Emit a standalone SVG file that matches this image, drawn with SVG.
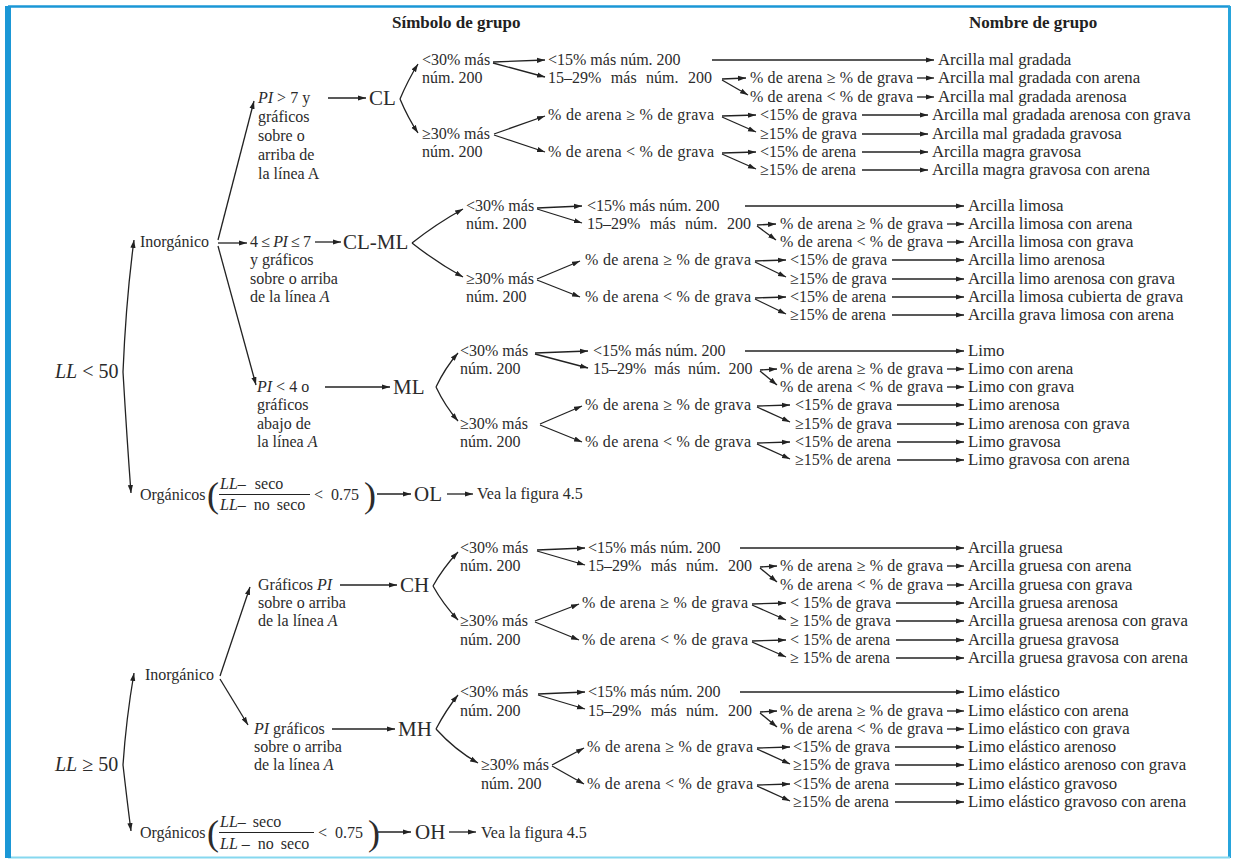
<svg xmlns="http://www.w3.org/2000/svg" width="1234" height="862" viewBox="0 0 1234 862">
<style>
.t{font-family:"Liberation Serif","Times New Roman",serif;font-size:16px;fill:#2b2b2b}
.n{font-size:16.8px}
.h{font-weight:bold;fill:#222;font-size:17px}
.big{font-size:21px}
.ll{font-size:20px}
.par{font-size:36px}
.i{font-style:italic}
.w{word-spacing:5.5px}
.c path{stroke:#222;stroke-width:1.3;fill:none;marker-end:url(#ah)}
</style>
<defs>
<marker id="ah" markerUnits="userSpaceOnUse" markerWidth="9" markerHeight="6" refX="8" refY="3" orient="auto"><path d="M0,0.4 L8,3 L0,5.6 z" fill="#222"/></marker>
</defs>
<rect width="1234" height="862" fill="#fff"/>
<g id="frame">
<path d="M8,6.5 H1230" stroke="#1b97d6" stroke-width="2.5"/>
<path d="M1229.5,6 V858" stroke="#27a4dc" stroke-width="3"/>
<path d="M8,857.5 H1230" stroke="#86d8ef" stroke-width="2"/>
<rect x="5" y="6" width="6" height="852" fill="#1b97d6"/>
</g>
<g id="headers">
<text class="t h" x="392" y="28">Símbolo de grupo</text>
<text class="t h" x="969" y="28">Nombre de grupo</text>
</g>
<g id="ll50">
<text class="t ll" x="55" y="378"><tspan class="i">LL</tspan> &lt; 50</text>
</g>
<g id="inorg1"><text class="t" x="140" y="247">Inorgánico</text></g>
<g id="pi7"><text class="t" x="258" y="103"><tspan class="i">PI</tspan> &gt; 7 y</text>
<text class="t" x="258" y="122">gráficos</text><text class="t" x="258" y="141">sobre o</text><text class="t" x="258" y="160">arriba de</text><text class="t" x="258" y="179">la línea A</text></g>
<g id="cl"><text class="t big" x="369" y="105">CL</text></g>
<g id="pi47"><text class="t" x="250" y="247" textLength="61">4 ≤ <tspan class="i">PI</tspan> ≤ 7</text>
<text class="t" x="250" y="265">y gráficos</text><text class="t" x="250" y="284">sobre o arriba</text><text class="t" x="250" y="302">de la línea <tspan class="i">A</tspan></text></g>
<g id="clml"><text class="t big" x="343" y="249">CL-ML</text></g>
<g id="pi4"><text class="t" x="257" y="392"><tspan class="i">PI</tspan> &lt; 4 o</text>
<text class="t" x="257" y="410">gráficos</text><text class="t" x="257" y="429">abajo de</text><text class="t" x="257" y="447">la línea <tspan class="i">A</tspan></text></g>
<g id="ml"><text class="t big" x="393" y="394">ML</text></g>
<g id="org1"><text class="t" x="140" y="500">Orgánicos</text>
<text class="t par" x="207" y="507">(</text>
<text class="t" x="220" y="489"><tspan class="i">LL</tspan>– <tspan dx="5">seco</tspan></text>
<path d="M219,494.5 H310" stroke="#222" stroke-width="1.1"/>
<text class="t" x="220" y="510"><tspan class="i">LL</tspan>– <tspan dx="4">no</tspan> <tspan dx="3">seco</tspan></text>
<text class="t" x="314" y="500">&lt; <tspan dx="4">0.75</tspan></text>
<text class="t par" x="364" y="507">)</text></g>
<g id="ol"><text class="t big" x="414" y="501">OL</text></g>
<g id="vea1"><text class="t" x="477" y="499">Vea la figura 4.5</text></g>

<g id="cl-a"><text class="t" x="422" y="65">&lt;30% más</text><text class="t" x="422" y="83">núm. 200</text></g>
<g id="cl-b"><text class="t" x="422" y="139">≥30% más</text><text class="t" x="422" y="157">núm. 200</text></g>
<g id="cl-a1"><text class="t" x="548" y="65">&lt;15% más núm. 200</text></g>
<g id="cl-a2"><text class="t w" x="548" y="83">15–29% más núm. 200</text></g>
<g id="cl-a2x"><text class="t" x="750" y="83" textLength="163">% de arena ≥ % de grava</text><text class="t" x="750" y="102" textLength="163">% de arena &lt; % de grava</text></g>
<g id="cl-b1"><text class="t" x="548" y="120" textLength="166">% de arena ≥ % de grava</text></g>
<g id="cl-b2"><text class="t" x="548" y="157" textLength="166">% de arena &lt; % de grava</text></g>
<g id="cl-bx"><text class="t" x="760" y="120">&lt;15% de grava</text><text class="t" x="760" y="139">≥15% de grava</text><text class="t" x="760" y="157">&lt;15% de arena</text><text class="t" x="760" y="175">≥15% de arena</text></g>
<g id="cl-names">
<text class="t n" x="938" y="65">Arcilla mal gradada</text>
<text class="t n" x="938" y="83">Arcilla mal gradada con arena</text>
<text class="t n" x="938" y="102">Arcilla mal gradada arenosa</text>
<text class="t n" x="932" y="120">Arcilla mal gradada arenosa con grava</text>
<text class="t n" x="932" y="139">Arcilla mal gradada gravosa</text>
<text class="t n" x="932" y="157">Arcilla magra gravosa</text>
<text class="t n" x="932" y="175">Arcilla magra gravosa con arena</text>
</g>

<g id="clml-a"><text class="t" x="466" y="211">&lt;30% más</text><text class="t" x="466" y="229">núm. 200</text></g>
<g id="clml-b"><text class="t" x="466" y="284">≥30% más</text><text class="t" x="466" y="302">núm. 200</text></g>
<g id="clml-a1"><text class="t" x="587" y="211">&lt;15% más núm. 200</text></g>
<g id="clml-a2"><text class="t w" x="587" y="229">15–29% más núm. 200</text></g>
<g id="clml-a2x"><text class="t" x="780" y="229" textLength="163">% de arena ≥ % de grava</text><text class="t" x="780" y="247" textLength="163">% de arena &lt; % de grava</text></g>
<g id="clml-b1"><text class="t" x="585" y="265" textLength="166">% de arena ≥ % de grava</text></g>
<g id="clml-b2"><text class="t" x="585" y="302" textLength="166">% de arena &lt; % de grava</text></g>
<g id="clml-bx"><text class="t" x="790" y="265">&lt;15% de grava</text><text class="t" x="790" y="284">≥15% de grava</text><text class="t" x="790" y="302">&lt;15% de arena</text><text class="t" x="790" y="320">≥15% de arena</text></g>
<g id="clml-names">
<text class="t n" x="968" y="211">Arcilla limosa</text>
<text class="t n" x="968" y="229">Arcilla limosa con arena</text>
<text class="t n" x="968" y="247">Arcilla limosa con grava</text>
<text class="t n" x="968" y="265">Arcilla limo arenosa</text>
<text class="t n" x="968" y="284">Arcilla limo arenosa con grava</text>
<text class="t n" x="968" y="302">Arcilla limosa cubierta de grava</text>
<text class="t n" x="968" y="320">Arcilla grava limosa con arena</text>
</g>

<g id="ml-a"><text class="t" x="460" y="356">&lt;30% más</text><text class="t" x="460" y="374">núm. 200</text></g>
<g id="ml-b"><text class="t" x="460" y="429">≥30% más</text><text class="t" x="460" y="447">núm. 200</text></g>
<g id="ml-a1"><text class="t" x="593" y="356">&lt;15% más núm. 200</text></g>
<g id="ml-a2"><text class="t" x="593" y="374" style="word-spacing:4px">15–29% más núm. 200</text></g>
<g id="ml-a2x"><text class="t" x="780" y="374" textLength="163">% de arena ≥ % de grava</text><text class="t" x="780" y="392" textLength="163">% de arena &lt; % de grava</text></g>
<g id="ml-b1"><text class="t" x="585" y="410" textLength="166">% de arena ≥ % de grava</text></g>
<g id="ml-b2"><text class="t" x="585" y="447" textLength="166">% de arena &lt; % de grava</text></g>
<g id="ml-bx"><text class="t" x="795" y="410">&lt;15% de grava</text><text class="t" x="795" y="429">≥15% de grava</text><text class="t" x="795" y="447">&lt;15% de arena</text><text class="t" x="795" y="465">≥15% de arena</text></g>
<g id="ml-names">
<text class="t n" x="968" y="356">Limo</text>
<text class="t n" x="968" y="374">Limo con arena</text>
<text class="t n" x="968" y="392">Limo con grava</text>
<text class="t n" x="968" y="410">Limo arenosa</text>
<text class="t n" x="968" y="429">Limo arenosa con grava</text>
<text class="t n" x="968" y="447">Limo gravosa</text>
<text class="t n" x="968" y="465">Limo gravosa con arena</text>
</g>

<g id="ll50b"><text class="t ll" x="55" y="771"><tspan class="i">LL</tspan> ≥ 50</text></g>
<g id="inorg2"><text class="t" x="145" y="680">Inorgánico</text></g>
<g id="gpi"><text class="t" x="258" y="590">Gráficos <tspan class="i">PI</tspan></text><text class="t" x="258" y="608">sobre o arriba</text><text class="t" x="258" y="626">de la línea <tspan class="i">A</tspan></text></g>
<g id="ch"><text class="t big" x="400" y="592">CH</text></g>
<g id="pig"><text class="t" x="254" y="734"><tspan class="i">PI</tspan> gráficos</text><text class="t" x="254" y="752">sobre o arriba</text><text class="t" x="254" y="770">de la línea <tspan class="i">A</tspan></text></g>
<g id="mh"><text class="t big" x="398" y="736">MH</text></g>
<g id="org2"><text class="t" x="140" y="838">Orgánicos</text>
<text class="t par" x="207" y="845">(</text>
<text class="t" x="220" y="827"><tspan class="i">LL</tspan>– <tspan dx="3">seco</tspan></text>
<path d="M219,832.5 H314" stroke="#222" stroke-width="1.1"/>
<text class="t" x="220" y="849"><tspan class="i">LL</tspan> – <tspan dx="4">no</tspan> <tspan dx="3">seco</tspan></text>
<text class="t" x="318" y="838">&lt; <tspan dx="4">0.75</tspan></text>
<text class="t par" x="368" y="845">)</text></g>
<g id="oh"><text class="t big" x="415" y="839">OH</text></g>
<g id="vea2"><text class="t" x="481" y="838">Vea la figura 4.5</text></g>

<g id="ch-a"><text class="t" x="460" y="553">&lt;30% más</text><text class="t" x="460" y="571">núm. 200</text></g>
<g id="ch-b"><text class="t" x="460" y="626">≥30% más</text><text class="t" x="460" y="645">núm. 200</text></g>
<g id="ch-a1"><text class="t" x="588" y="553">&lt;15% más núm. 200</text></g>
<g id="ch-a2"><text class="t w" x="588" y="571">15–29% más núm. 200</text></g>
<g id="ch-a2x"><text class="t" x="780" y="571" textLength="163">% de arena ≥ % de grava</text><text class="t" x="780" y="590" textLength="163">% de arena &lt; % de grava</text></g>
<g id="ch-b1"><text class="t" x="582" y="608" textLength="166">% de arena ≥  % de grava</text></g>
<g id="ch-b2"><text class="t" x="582" y="645" textLength="166">% de arena &lt;  % de grava</text></g>
<g id="ch-bx"><text class="t" x="790" y="608">&lt; 15% de grava</text><text class="t" x="790" y="626">≥ 15% de grava</text><text class="t" x="790" y="645">&lt; 15% de arena</text><text class="t" x="790" y="663">≥ 15% de arena</text></g>
<g id="ch-names">
<text class="t n" x="968" y="553">Arcilla gruesa</text>
<text class="t n" x="968" y="571">Arcilla gruesa con arena</text>
<text class="t n" x="968" y="590">Arcilla gruesa con grava</text>
<text class="t n" x="968" y="608">Arcilla gruesa arenosa</text>
<text class="t n" x="968" y="626">Arcilla gruesa arenosa con grava</text>
<text class="t n" x="968" y="645">Arcilla gruesa gravosa</text>
<text class="t n" x="968" y="663">Arcilla gruesa gravosa con arena</text>
</g>

<g id="mh-a"><text class="t" x="460" y="697">&lt;30% más</text><text class="t" x="460" y="716">núm. 200</text></g>
<g id="mh-b"><text class="t" x="481" y="770">≥30% más</text><text class="t" x="481" y="789">núm. 200</text></g>
<g id="mh-a1"><text class="t" x="588" y="697">&lt;15% más núm. 200</text></g>
<g id="mh-a2"><text class="t w" x="588" y="716">15–29% más núm. 200</text></g>
<g id="mh-a2x"><text class="t" x="780" y="716" textLength="163">% de arena ≥ % de grava</text><text class="t" x="780" y="734" textLength="163">% de arena &lt; % de grava</text></g>
<g id="mh-b1"><text class="t" x="587" y="752" textLength="166">% de arena ≥ % de grava</text></g>
<g id="mh-b2"><text class="t" x="587" y="789" textLength="166">% de arena &lt; % de grava</text></g>
<g id="mh-bx"><text class="t" x="793" y="752">&lt;15% de grava</text><text class="t" x="793" y="770">≥15% de grava</text><text class="t" x="793" y="789">&lt;15% de arena</text><text class="t" x="793" y="807">≥15% de arena</text></g>
<g id="mh-names">
<text class="t n" x="968" y="697">Limo elástico</text>
<text class="t n" x="968" y="716">Limo elástico con arena</text>
<text class="t n" x="968" y="734">Limo elástico con grava</text>
<text class="t n" x="968" y="752">Limo elástico arenoso</text>
<text class="t n" x="968" y="770">Limo elástico arenoso con grava</text>
<text class="t n" x="968" y="789">Limo elástico gravoso</text>
<text class="t n" x="968" y="807">Limo elástico gravoso con arena</text>
</g>

<g id="connectors" class="c">
<path d="M123,372 Q126,300 134,240"/>
<path d="M123,372 Q127,440 131,493"/>
<path d="M218,240 L254,101"/>
<path d="M218,243 L247,243"/>
<path d="M218,246 L256,385"/>
<path d="M328,98 L366,98"/>
<path d="M400,99 Q408,80 418,64"/>
<path d="M400,99 Q408,118 418,133"/>
<path d="M315,242 L341,242"/>
<path d="M412,243 Q436,224 463,209"/>
<path d="M412,243 Q436,262 463,277"/>
<path d="M325,387 L390,387"/>
<path d="M436,387 Q445,368 458,353"/>
<path d="M436,387 Q445,406 458,421"/>
<path d="M377,494 L411,494"/>
<path d="M447,494 L473,494"/>

<path d="M493,62 L545,60"/><path d="M493,63 L545,77"/>
<path d="M712,60 L934,60"/>
<path d="M722,79 L746,78"/><path d="M722,80 L748,95"/>
<path d="M917,78 L934,78"/><path d="M917,97 L934,97"/>
<path d="M494,134 L545,116"/><path d="M494,135 L545,152"/>
<path d="M722,116 L756,115"/><path d="M722,117 L756,132"/>
<path d="M722,153 L756,152"/><path d="M722,154 L756,169"/>
<path d="M862,115 L928,115"/><path d="M862,134 L928,134"/><path d="M862,152 L928,152"/><path d="M862,170 L928,170"/>

<path d="M537,208 L582,206"/><path d="M537,209 L582,223"/>
<path d="M745,206 L964,206"/>
<path d="M757,225 L776,224"/><path d="M757,226 L776,240"/>
<path d="M947,224 L964,224"/><path d="M947,242 L964,242"/>
<path d="M537,279 L580,261"/><path d="M537,280 L580,297"/>
<path d="M755,261 L786,260"/><path d="M755,262 L786,277"/>
<path d="M755,298 L786,297"/><path d="M755,299 L786,314"/>
<path d="M892,260 L964,260"/><path d="M892,279 L964,279"/><path d="M892,297 L964,297"/><path d="M892,315 L964,315"/>

<path d="M535,353 L588,351"/><path d="M535,354 L588,368"/>
<path d="M745,351 L964,351"/>
<path d="M760,370 L777,369"/><path d="M760,371 L777,385"/>
<path d="M947,369 L964,369"/><path d="M947,387 L964,387"/>
<path d="M540,424 L582,406"/><path d="M540,425 L582,442"/>
<path d="M757,406 L790,405"/><path d="M757,407 L790,422"/>
<path d="M757,443 L790,442"/><path d="M757,444 L790,459"/>
<path d="M897,405 L964,405"/><path d="M897,424 L964,424"/><path d="M897,442 L964,442"/><path d="M897,460 L964,460"/>

<path d="M123,765 Q126,720 134,673"/>
<path d="M123,765 Q127,800 131,831"/>
<path d="M220,676 L250,587"/>
<path d="M220,679 L248,725"/>
<path d="M340,585 L397,585"/>
<path d="M433,586 Q443,568 458,552"/>
<path d="M433,586 Q443,604 458,620"/>
<path d="M332,729 L395,729"/>
<path d="M436,729 Q446,710 458,695"/>
<path d="M436,729 Q455,750 478,763"/>
<path d="M378,832 L411,832"/>
<path d="M449,832 L476,832"/>

<path d="M537,550 L585,548"/><path d="M537,551 L585,565"/>
<path d="M740,548 L964,548"/>
<path d="M760,567 L777,566"/><path d="M760,568 L777,582"/>
<path d="M947,566 L964,566"/><path d="M947,585 L964,585"/>
<path d="M535,621 L579,604"/><path d="M535,622 L579,640"/>
<path d="M752,604 L786,603"/><path d="M752,605 L786,620"/>
<path d="M752,641 L786,640"/><path d="M752,642 L786,657"/>
<path d="M896,603 L964,603"/><path d="M896,621 L964,621"/><path d="M896,640 L964,640"/><path d="M896,658 L964,658"/>

<path d="M538,694 L585,692"/><path d="M538,695 L585,709"/>
<path d="M740,692 L964,692"/>
<path d="M760,712 L777,711"/><path d="M760,713 L777,727"/>
<path d="M947,711 L964,711"/><path d="M947,729 L964,729"/>
<path d="M552,765 L584,748"/><path d="M552,766 L584,784"/>
<path d="M757,748 L790,747"/><path d="M757,749 L790,764"/>
<path d="M757,785 L790,784"/><path d="M757,786 L790,801"/>
<path d="M895,747 L964,747"/><path d="M895,765 L964,765"/><path d="M895,784 L964,784"/><path d="M895,802 L964,802"/>
</g>
</svg>
